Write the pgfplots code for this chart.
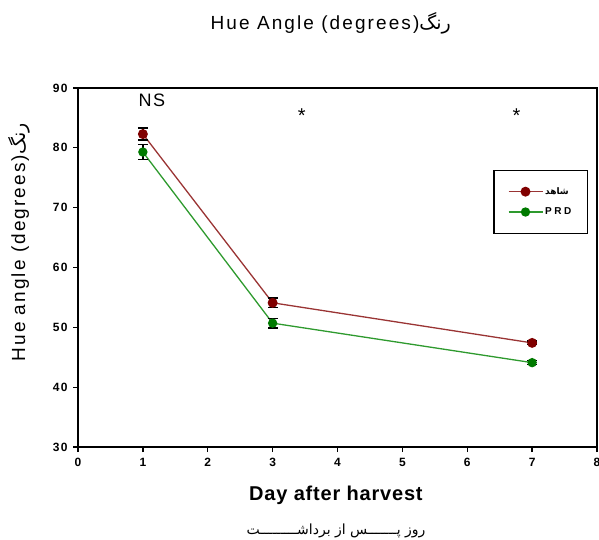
\documentclass[border=0pt]{standalone}
\usepackage{fontspec}
\setmainfont{Liberation Sans}
\newfontfamily\arabicfont[Script=Arabic]{DejaVu Sans}
\TeXXeTstate=1
\usepackage{pgfplots}
\pgfplotsset{compat=1.18}
\usetikzlibrary{calc}
\definecolor{ctrl}{HTML}{800000}
\definecolor{ctrlline}{HTML}{9A3434}
\definecolor{prd}{HTML}{007A00}
\definecolor{prdline}{HTML}{2E9A2E}

% day, mean, error
\pgfplotstableread{
x y e
1 82.3 1.0
3 54.1 0.8
7 47.4 0.3
}\ctrldata
\pgfplotstableread{
x y e
1 79.3 1.2
3 50.7 0.8
7 44.1 0.3
}\prddata

\begin{document}
\begin{tikzpicture}
\begin{axis}[
  scale only axis, width=519bp, height=359bp,
  xmin=0, xmax=8, ymin=30, ymax=90,
  xtick={0,1,...,8}, ytick={30,40,...,90},
  tick pos=left, tick align=outside, major tick length=5bp,
  axis line style={black, line width=1.3bp},
  tick style={black, line width=1.3bp},
  /pgf/number format/assume math mode=true,
  tick label style={font=\fontsize{12bp}{14bp}\selectfont\bfseries\addfontfeature{LetterSpace=10}},
  xticklabel style={yshift=-3bp},
  yticklabel style={xshift=-2bp},
  clip=false,
  legend style={at={(0.80,0.772)}, anchor=north west, draw=black, line width=1.3bp,
    inner xsep=14bp, inner ysep=15bp, row sep=8bp,
    /tikz/every even column/.append style={column sep=7bp},
    font=\fontsize{10bp}{12bp}\selectfont\bfseries\addfontfeature{LetterSpace=25}},
  legend cell align=left,
  legend image code/.code={
    \draw[mark repeat=2,mark phase=2,#1] plot coordinates {(0bp,0bp) (17bp,0bp) (34bp,0bp)};
  },
]
\addplot[ctrlline, line width=1.3bp, mark=*, mark size=4.3bp,
  mark options={ctrl, fill=ctrl},
  error bars/.cd, y dir=both, y explicit,
  error bar style={black, line width=1.3bp},
  error mark options={black, line width=1.3bp, rotate=90, mark size=5bp}]
  table[x=x, y=y, y error=e] {\ctrldata};
\addlegendentry{\arabicfont\fontsize{9bp}{10bp}\selectfont\beginR شاهد\endR}
\addplot[prdline, line width=1.3bp, mark=*, mark size=4bp,
  mark options={prd, fill=prd},
  error bars/.cd, y dir=both, y explicit,
  error bar style={black, line width=1.3bp},
  error mark options={black, line width=1.3bp, rotate=90, mark size=5bp}]
  table[x=x, y=y, y error=e] {\prddata};
\addlegendentry{PRD}

\node[font=\fontsize{18bp}{20bp}\selectfont\addfontfeature{LetterSpace=8}] at (axis cs:1.14,88) {NS};
\node[font=\fontsize{20bp}{22bp}\selectfont] at (axis cs:3.45,85.4) {*};
\node[font=\fontsize{20bp}{22bp}\selectfont] at (axis cs:6.76,85.4) {*};

\node[font=\fontsize{19bp}{22bp}\selectfont\addfontfeature{LetterSpace=11}]
  at (axis description cs:0.487,1.181) {Hue Angle (degrees){\arabicfont\beginR رنگ\endR}};
\node[rotate=90, font=\fontsize{19bp}{22bp}\selectfont\addfontfeature{LetterSpace=11}]
  at (axis description cs:-0.114,0.570) {Hue angle (degrees){\arabicfont\beginR رنگ\endR}};
\node[font=\fontsize{20bp}{23bp}\selectfont\bfseries\addfontfeature{LetterSpace=4}]
  at (axis description cs:0.497,-0.134) {Day after harvest};
\node[font=\arabicfont\fontsize{14bp}{17bp}\selectfont]
  at (axis description cs:0.497,-0.234) {\beginR روز پـــــــس از برداشـــــــــت\endR};
\end{axis}
\pgfresetboundingbox
\path[use as bounding box] ($(current axis.south west)+(-78bp,-92bp)$) rectangle ($(current axis.north east)+(2bp,88bp)$);
\end{tikzpicture}
\end{document}
